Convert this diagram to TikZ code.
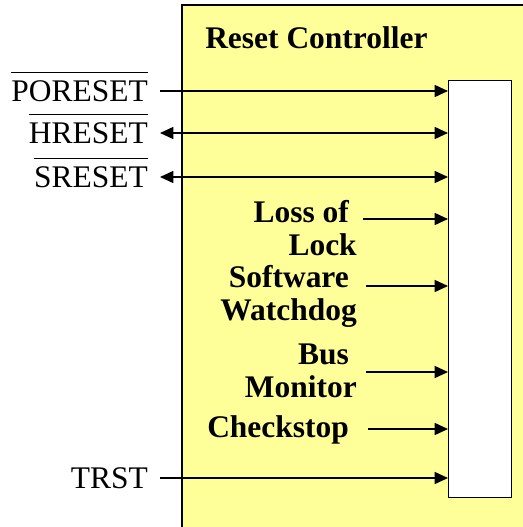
\documentclass[tikz,border=0pt]{standalone}
\usepackage{fontspec}
\setmainfont{Liberation Serif}
\usetikzlibrary{arrows.meta}
\definecolor{ctrlyellow}{HTML}{FFFF99}
\tikzset{
  wire/.style={line width=1.1pt, -{Triangle[length=10pt,width=9pt]}},
  biwire/.style={line width=1.1pt, {Triangle[length=10pt,width=9pt]}-{Triangle[length=10pt,width=9pt]}},
  pin/.style={font=\fontsize{23.6}{28}\selectfont, anchor=east, inner xsep=9pt, inner ysep=0pt, text height=15.75pt, text depth=0pt},
  src/.style={font=\fontsize{23.6}{24.75}\selectfont\bfseries, align=right, inner sep=0pt, anchor=base east},
}
\newcommand\lowact[1]{$\overline{\mbox{\rule{0pt}{0.88em}#1}}$}
\begin{document}
\begin{tikzpicture}[x=0.75pt,y=-0.75pt]
  \useasboundingbox (0,0) rectangle (523,527);
  \clip (0,0) rectangle (523,527);
  % controller block
  \draw[line width=1.1pt, fill=ctrlyellow] (182,5) rectangle (540,545);
  \node[font=\fontsize{23.6}{28}\selectfont\bfseries, anchor=base west, inner sep=0pt] (title) at (205,49) {Reset Controller};
  \node[draw, fill=white, line width=1.1pt, inner sep=0pt, anchor=north west,
    minimum width=47.25pt, minimum height=312.75pt] (wbox) at (448,80) {};
  % external pins
  \node[pin] (poreset) at (160,91) {\lowact{PORESET}};
  \node[pin] (hreset) at (160,133) {\lowact{HRESET}};
  \node[pin] (sreset) at (160,177) {\lowact{SRESET}};
  \node[pin] (trst) at (160,478) {TRST};
  % internal sources
  \coordinate (lol) at (363,219);
  \coordinate (swd) at (366,286);
  \coordinate (bmon) at (366,372);
  \coordinate (chk) at (368,429);
  \node[src] (lossoflock) at (357,255) {Loss of\kern.25em\\Lock};
  \node[src] (watchdog) at (357,320) {Software\kern.25em\\Watchdog};
  \node[src] (busmon) at (357,397) {Bus\kern.25em\\Monitor};
  \node[src] (checkstop) at (357,437) {Checkstop\kern.25em};
  \draw[wire] (poreset) -- (poreset -| wbox.west);
  \draw[biwire] (hreset) -- (hreset -| wbox.west);
  \draw[biwire] (sreset) -- (sreset -| wbox.west);
  \draw[wire] (trst) -- (trst -| wbox.west);
  \draw[wire] (lol) -- (lol -| wbox.west);
  \draw[wire] (swd) -- (swd -| wbox.west);
  \draw[wire] (bmon) -- (bmon -| wbox.west);
  \draw[wire] (chk) -- (chk -| wbox.west);
\end{tikzpicture}
\end{document}
